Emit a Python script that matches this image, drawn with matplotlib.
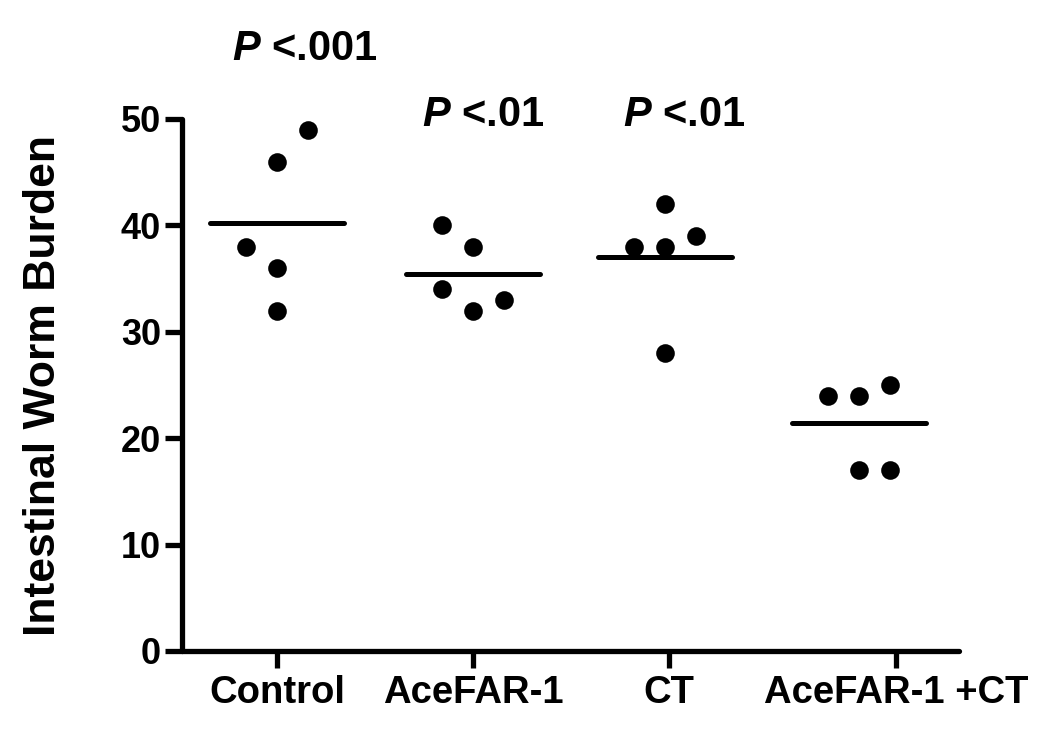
import numpy as np
import matplotlib
matplotlib.use("Agg")
import matplotlib.pyplot as plt

plt.rcParams['font.family'] = ['Liberation Sans', 'DejaVu Sans']
plt.rcParams['mathtext.fontset'] = 'custom'
plt.rcParams['mathtext.it'] = 'Liberation Sans:italic:bold'
plt.rcParams['mathtext.rm'] = 'Liberation Sans:bold'

# Data
groups = ['Control', 'AceFAR-1', 'CT', 'AceFAR-1 +CT']
control = [38, 46, 36, 32, 49]
acefar = [40, 34, 38, 32, 33]
ct = [38, 42, 38, 28, 39]
combo = [24, 24, 17, 25, 17]
# horizontal jitter slot of each point (-1 left, 0 centre, 1 right)
control_slot = [-1, 0, 0, 0, 1]
acefar_slot = [-1, -1, 0, 0, 1]
ct_slot = [-1, 0, 0, 0, 1]
combo_slot = [-1, 0, 0, 1, 1]
p_labels = ['$P$ <.001', '$P$ <.01', '$P$ <.01']

series = [control, acefar, ct, combo]
slots = [control_slot, acefar_slot, ct_slot, combo_slot]
centres = [1, 2, 2.98, 3.97]
tick_pos = [1, 2, 3, 4.16]
dx = 0.158

fig = plt.figure(figsize=(10.5, 7.33), dpi=100)
ax = fig.add_axes([182 / 1050, 1 - 651 / 733, 777 / 1050, 532 / 733])

for c, vals, sl in zip(centres, series, slots):
    xs = c + dx * np.array(sl)
    ax.scatter(xs, vals, s=180, color='black', zorder=3, linewidths=0)
    ax.plot([c - 0.34, c + 0.34], [np.mean(vals), np.mean(vals)],
            color='black', lw=3.6, solid_capstyle='round')

# significance labels
p_x = [1.14, 2.05, 3.08]
p_y = [56.6, 50.4, 50.4]
for x, y, t in zip(p_x, p_y, p_labels):
    ax.text(x, y, t, ha='center', va='center', fontsize=30,
            fontweight='bold', clip_on=False)

ax.set_xlim(0.515, 4.48)
ax.set_ylim(0, 50)
ax.set_yticks([0, 10, 20, 30, 40, 50])
ax.set_xticks(tick_pos)
ax.set_xticklabels(groups)

for s in ['top', 'right']:
    ax.spines[s].set_visible(False)
for s in ['left', 'bottom']:
    ax.spines[s].set_linewidth(3.8)
    ax.spines[s].set_capstyle('round')

ax.tick_params(axis='both', width=3.8, length=12)
ax.tick_params(axis='y', labelsize=26, pad=3)
ax.tick_params(axis='x', labelsize=27.5, pad=5)
for lab in ax.get_xticklabels() + ax.get_yticklabels():
    lab.set_fontweight('bold')

ax.set_ylabel('Intestinal Worm Burden', fontsize=32, fontweight='bold')
ax.yaxis.set_label_coords(-0.152, 0.5)

fig.savefig('out.png', dpi=100)
